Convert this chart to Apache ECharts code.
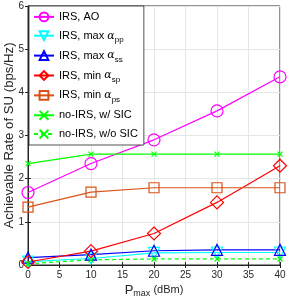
<!DOCTYPE html>
<html><head><meta charset="utf-8">
<script src="https://cdn.jsdelivr.net/npm/echarts@6/dist/echarts.min.js"></script>
<style>html,body{margin:0;padding:0;background:#fff}#c{width:291px;height:303px}</style>
</head><body><div id="c"></div>
<script>
const xValues = [0, 10, 20, 30, 40];
const irsAO = [1.68, 2.35, 2.90, 3.57, 4.36];
const irsMaxPP = [0.08, 0.15, 0.28, 0.29, 0.29];
const irsMaxSS = [0.17, 0.24, 0.33, 0.35, 0.35];
const irsMinSP = [0.07, 0.32, 0.73, 1.45, 2.30];
const irsMinPS = [1.34, 1.69, 1.79, 1.79, 1.79];
const noIrsSIC = [2.35, 2.57, 2.57, 2.57, 2.57];
const noIrsNoSIC = [0.03, 0.12, 0.14, 0.14, 0.14];
const xTicks = [0, 5, 10, 15, 20, 25, 30, 35, 40];
const yTicks = [0, 1, 2, 3, 4, 5, 6];

const FONT = 'Liberation Sans, Arial, sans-serif';
const pair = arr => xValues.map((x, i) => [x, arr[i]]);
const crossPath = 'path://M0,0L10,10M10,0L0,10';

function mk(name, data, color, symbol, size, dashed) {
  return {
    name, type: 'line', data: pair(data), color,
    symbol, symbolSize: size, showAllSymbol: true,
    lineStyle: { color, width: 1.2, type: dashed ? [4, 3] : 'solid' },
    itemStyle: { color: 'none', borderColor: color, borderWidth: 1.2 },
    emphasis: { disabled: true }, animation: false, z: 3
  };
}

const series = [
  mk('ao', irsAO, '#ff00ff', 'circle', 12),
  mk('pp', irsMaxPP, '#00ffff', 'path://M0,0L10,0L5,9Z', 11),
  mk('ss', irsMaxSS, '#0000ff', 'path://M5,0L10,9L0,9Z', 11),
  mk('sp', irsMinSP, '#ff0000', 'diamond', 13),
  mk('ps', irsMinPS, '#d95319', 'rect', 10),
  mk('sic', noIrsSIC, '#00ff00', crossPath, 5),
  mk('nosic', noIrsNoSIC, '#00ff00', crossPath, 5, true)
];

const labels = {
  ao: '{a|IRS, AO}',
  pp: '{a|IRS, max }{g|α}{s|pp}',
  ss: '{a|IRS, max }{g|α}{s|ss}',
  sp: '{a|IRS, min }{g|α}{s|sp}',
  ps: '{a|IRS, min }{g|α}{s|ps}',
  sic: '{a|no-IRS, w/ SIC}',
  nosic: '{a|no-IRS, w/o SIC}'
};

const chart = echarts.init(document.getElementById('c'), null, { renderer: 'canvas' });
chart.setOption({
  animation: false,
  backgroundColor: '#fff',
  grid: { left: 28, right: 11, top: 6, bottom: 38, containLabel: false, outerBoundsMode: 'none',
    show: true, borderColor: '#262626', borderWidth: 1 },
  legend: {
    left: 29, top: 6, orient: 'vertical',
    backgroundColor: '#fff', borderColor: '#262626', borderWidth: 0.8,
    padding: [4, 6, 4, 4], itemWidth: 20, itemHeight: 11, itemGap: 5,
    data: series.map(s => s.name),
    formatter: n => labels[n],
    textStyle: {
      fontFamily: FONT, color: '#000',
      rich: {
        a: { fontSize: 11, lineHeight: 16, fontFamily: FONT, color: '#000' },
        g: { fontSize: 11, lineHeight: 16, fontFamily: 'DejaVu Serif, serif', fontStyle: 'italic', color: '#000' },
        s: { fontSize: 8, lineHeight: 9, verticalAlign: 'bottom', fontFamily: FONT, color: '#000' }
      }
    }
  },
  xAxis: [{
    type: 'value', min: 0, max: 40, interval: 5,
    name: '{p|P}{m|max}{d| (dBm)}', nameLocation: 'middle', nameGap: 17, nameMoveOverlap: false,
    nameTextStyle: { rich: {
      p: { fontSize: 13, fontFamily: FONT, color: '#262626', lineHeight: 16 },
      m: { fontSize: 9, fontFamily: FONT, color: '#262626', lineHeight: 8, verticalAlign: 'bottom' },
      d: { fontSize: 11, fontFamily: FONT, color: '#262626', lineHeight: 16 }
    } },
    axisLine: { show: true, onZero: false, lineStyle: { color: '#262626' } },
    axisTick: { show: true, inside: true, length: 3, lineStyle: { color: '#262626' } },
    axisLabel: { fontSize: 10, color: '#262626', fontFamily: FONT, margin: 5,
      formatter: v => xTicks.includes(v) ? String(v) : '' },
    splitLine: { show: true, lineStyle: { color: '#e6e6e6', width: 1 } }
  }, {
    type: 'value', min: 0, max: 40, interval: 5, position: 'top',
    axisLine: { show: true, lineStyle: { color: '#262626' } },
    axisTick: { show: true, inside: true, length: 3, lineStyle: { color: '#262626' } },
    axisLabel: { show: false }, splitLine: { show: false }
  }],
  yAxis: [{
    type: 'value', min: 0, max: 6, interval: 1,
    name: 'Achievable Rate of SU (bps/Hz)', nameLocation: 'middle', nameGap: 12.5, nameMoveOverlap: false,
    nameTextStyle: { fontSize: 13.2, fontFamily: FONT, color: '#262626' },
    axisLine: { show: true, onZero: false, lineStyle: { color: '#262626' } },
    axisTick: { show: true, inside: true, length: 3, lineStyle: { color: '#262626' } },
    axisLabel: { fontSize: 10, color: '#262626', fontFamily: FONT, margin: 4,
      formatter: v => yTicks.includes(v) ? String(v) : '' },
    splitLine: { show: true, lineStyle: { color: '#e6e6e6', width: 1 } }
  }, {
    type: 'value', min: 0, max: 6, interval: 1, position: 'right',
    axisLine: { show: true, lineStyle: { color: '#262626' } },
    axisTick: { show: true, inside: true, length: 3, lineStyle: { color: '#262626' } },
    axisLabel: { show: false }, splitLine: { show: false }
  }],
  series
});
</script>
</body></html>
